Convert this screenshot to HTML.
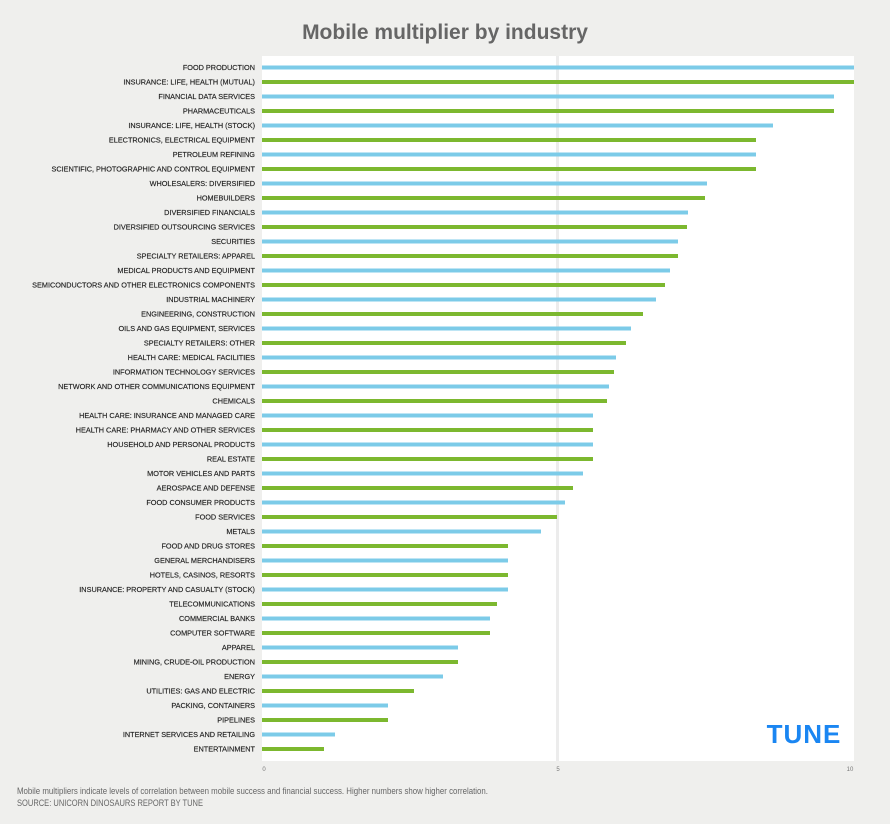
<!DOCTYPE html>
<html><head><meta charset="utf-8"><style>
html,body{margin:0;padding:0;background:#efefed;}
svg{display:block;font-family:"Liberation Sans",sans-serif;}
</style></head><body>
<svg width="890" height="824" viewBox="0 0 890 824" xmlns="http://www.w3.org/2000/svg">
<rect width="890" height="824" fill="#efefed"/>
<text x="445" y="39" text-anchor="middle" font-size="21" font-weight="bold" fill="#666">Mobile multiplier by industry</text>
<rect x="262" y="56" width="592" height="705" fill="#fff"/>
<rect x="556" y="56" width="3" height="705" fill="#ececec"/>
<text x="264" y="771" text-anchor="middle" font-size="6" fill="#777">0</text>
<text x="558" y="771" text-anchor="middle" font-size="6" fill="#777">5</text>
<text x="850" y="771" text-anchor="middle" font-size="6" fill="#777">10</text>
<text x="804" y="743" text-anchor="middle" font-size="26" font-weight="bold" fill="#1a86f2" letter-spacing="1">TUNE</text>
<text x="17" y="794" font-size="9" fill="#666" textLength="471" lengthAdjust="spacingAndGlyphs">Mobile multipliers indicate levels of correlation between mobile success and financial success. Higher numbers show higher correlation.</text>
<text x="17" y="806" font-size="9" fill="#666" textLength="186" lengthAdjust="spacingAndGlyphs">SOURCE: UNICORN DINOSAURS REPORT BY TUNE</text>
<g font-size="7.3" fill="#222" text-anchor="end" stroke="#222" stroke-width="0.15">
<text x="255" y="70">FOOD PRODUCTION</text>
<text x="255" y="84.5">INSURANCE: LIFE, HEALTH (MUTUAL)</text>
<text x="255" y="99">FINANCIAL DATA SERVICES</text>
<text x="255" y="113.5">PHARMACEUTICALS</text>
<text x="255" y="128">INSURANCE: LIFE, HEALTH (STOCK)</text>
<text x="255" y="142.5">ELECTRONICS, ELECTRICAL EQUIPMENT</text>
<text x="255" y="157">PETROLEUM REFINING</text>
<text x="255" y="171.5">SCIENTIFIC, PHOTOGRAPHIC AND CONTROL EQUIPMENT</text>
<text x="255" y="186">WHOLESALERS: DIVERSIFIED</text>
<text x="255" y="200.5">HOMEBUILDERS</text>
<text x="255" y="215">DIVERSIFIED FINANCIALS</text>
<text x="255" y="229.5">DIVERSIFIED OUTSOURCING SERVICES</text>
<text x="255" y="244">SECURITIES</text>
<text x="255" y="258.5">SPECIALTY RETAILERS: APPAREL</text>
<text x="255" y="273">MEDICAL PRODUCTS AND EQUIPMENT</text>
<text x="255" y="287.5">SEMICONDUCTORS AND OTHER ELECTRONICS COMPONENTS</text>
<text x="255" y="302">INDUSTRIAL MACHINERY</text>
<text x="255" y="316.5">ENGINEERING, CONSTRUCTION</text>
<text x="255" y="331">OILS AND GAS EQUIPMENT, SERVICES</text>
<text x="255" y="345.5">SPECIALTY RETAILERS: OTHER</text>
<text x="255" y="360">HEALTH CARE: MEDICAL FACILITIES</text>
<text x="255" y="374.5">INFORMATION TECHNOLOGY SERVICES</text>
<text x="255" y="389">NETWORK AND OTHER COMMUNICATIONS EQUIPMENT</text>
<text x="255" y="403.5">CHEMICALS</text>
<text x="255" y="418">HEALTH CARE: INSURANCE AND MANAGED CARE</text>
<text x="255" y="432.5">HEALTH CARE: PHARMACY AND OTHER SERVICES</text>
<text x="255" y="447">HOUSEHOLD AND PERSONAL PRODUCTS</text>
<text x="255" y="461.5">REAL ESTATE</text>
<text x="255" y="476">MOTOR VEHICLES AND PARTS</text>
<text x="255" y="490.5">AEROSPACE AND DEFENSE</text>
<text x="255" y="505">FOOD CONSUMER PRODUCTS</text>
<text x="255" y="519.5">FOOD SERVICES</text>
<text x="255" y="534">METALS</text>
<text x="255" y="548.5">FOOD AND DRUG STORES</text>
<text x="255" y="563">GENERAL MERCHANDISERS</text>
<text x="255" y="577.5">HOTELS, CASINOS, RESORTS</text>
<text x="255" y="592">INSURANCE: PROPERTY AND CASUALTY (STOCK)</text>
<text x="255" y="606.5">TELECOMMUNICATIONS</text>
<text x="255" y="621">COMMERCIAL BANKS</text>
<text x="255" y="635.5">COMPUTER SOFTWARE</text>
<text x="255" y="650">APPAREL</text>
<text x="255" y="664.5">MINING, CRUDE-OIL PRODUCTION</text>
<text x="255" y="679">ENERGY</text>
<text x="255" y="693.5">UTILITIES: GAS AND ELECTRIC</text>
<text x="255" y="708">PACKING, CONTAINERS</text>
<text x="255" y="722.5">PIPELINES</text>
<text x="255" y="737">INTERNET SERVICES AND RETAILING</text>
<text x="255" y="751.5">ENTERTAINMENT</text>
</g>
<g>
<rect x="262" y="65.5" width="592" height="4" fill="#7ccbe8"/>
<rect x="262" y="80" width="592" height="4" fill="#7cb82f"/>
<rect x="262" y="94.5" width="572" height="4" fill="#7ccbe8"/>
<rect x="262" y="109" width="572" height="4" fill="#7cb82f"/>
<rect x="262" y="123.5" width="511" height="4" fill="#7ccbe8"/>
<rect x="262" y="138" width="494" height="4" fill="#7cb82f"/>
<rect x="262" y="152.5" width="494" height="4" fill="#7ccbe8"/>
<rect x="262" y="167" width="494" height="4" fill="#7cb82f"/>
<rect x="262" y="181.5" width="445" height="4" fill="#7ccbe8"/>
<rect x="262" y="196" width="443" height="4" fill="#7cb82f"/>
<rect x="262" y="210.5" width="426" height="4" fill="#7ccbe8"/>
<rect x="262" y="225" width="425" height="4" fill="#7cb82f"/>
<rect x="262" y="239.5" width="416" height="4" fill="#7ccbe8"/>
<rect x="262" y="254" width="416" height="4" fill="#7cb82f"/>
<rect x="262" y="268.5" width="408" height="4" fill="#7ccbe8"/>
<rect x="262" y="283" width="403" height="4" fill="#7cb82f"/>
<rect x="262" y="297.5" width="394" height="4" fill="#7ccbe8"/>
<rect x="262" y="312" width="381" height="4" fill="#7cb82f"/>
<rect x="262" y="326.5" width="369" height="4" fill="#7ccbe8"/>
<rect x="262" y="341" width="364" height="4" fill="#7cb82f"/>
<rect x="262" y="355.5" width="354" height="4" fill="#7ccbe8"/>
<rect x="262" y="370" width="352" height="4" fill="#7cb82f"/>
<rect x="262" y="384.5" width="347" height="4" fill="#7ccbe8"/>
<rect x="262" y="399" width="345" height="4" fill="#7cb82f"/>
<rect x="262" y="413.5" width="331" height="4" fill="#7ccbe8"/>
<rect x="262" y="428" width="331" height="4" fill="#7cb82f"/>
<rect x="262" y="442.5" width="331" height="4" fill="#7ccbe8"/>
<rect x="262" y="457" width="331" height="4" fill="#7cb82f"/>
<rect x="262" y="471.5" width="321" height="4" fill="#7ccbe8"/>
<rect x="262" y="486" width="311" height="4" fill="#7cb82f"/>
<rect x="262" y="500.5" width="303" height="4" fill="#7ccbe8"/>
<rect x="262" y="515" width="295" height="4" fill="#7cb82f"/>
<rect x="262" y="529.5" width="279" height="4" fill="#7ccbe8"/>
<rect x="262" y="544" width="246" height="4" fill="#7cb82f"/>
<rect x="262" y="558.5" width="246" height="4" fill="#7ccbe8"/>
<rect x="262" y="573" width="246" height="4" fill="#7cb82f"/>
<rect x="262" y="587.5" width="246" height="4" fill="#7ccbe8"/>
<rect x="262" y="602" width="235" height="4" fill="#7cb82f"/>
<rect x="262" y="616.5" width="228" height="4" fill="#7ccbe8"/>
<rect x="262" y="631" width="228" height="4" fill="#7cb82f"/>
<rect x="262" y="645.5" width="196" height="4" fill="#7ccbe8"/>
<rect x="262" y="660" width="196" height="4" fill="#7cb82f"/>
<rect x="262" y="674.5" width="181" height="4" fill="#7ccbe8"/>
<rect x="262" y="689" width="152" height="4" fill="#7cb82f"/>
<rect x="262" y="703.5" width="126" height="4" fill="#7ccbe8"/>
<rect x="262" y="718" width="126" height="4" fill="#7cb82f"/>
<rect x="262" y="732.5" width="73" height="4" fill="#7ccbe8"/>
<rect x="262" y="747" width="62" height="4" fill="#7cb82f"/>
</g>
</svg>
</body></html>
